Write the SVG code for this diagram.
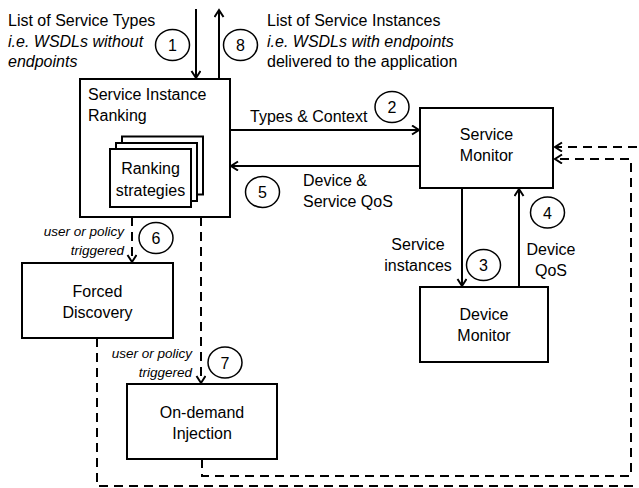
<svg xmlns="http://www.w3.org/2000/svg" width="639" height="488" viewBox="0 0 639 488">
  <style>
    .box { fill: #fff; stroke: #000; stroke-width: 2; }
    .txt { font-family: "Liberation Sans", Arial, sans-serif; font-size: 16px; fill: #000; }
    .it { font-style: italic; }
    .sm { font-size: 13.5px; }
    .mid { text-anchor: middle; }
    .end { text-anchor: end; }
    .num { fill: #fff; stroke: #000; stroke-width: 1.5; }
    .line { fill: none; stroke: #000; stroke-width: 2; }
    .dash { fill: none; stroke: #000; stroke-width: 2; stroke-dasharray: 9 6; }
  </style>
  <defs>
    <marker id="arr" markerUnits="userSpaceOnUse" markerWidth="12" markerHeight="12" refX="9" refY="5" orient="auto">
      <path d="M2,0.5 L9,5 L2,9.5" fill="none" stroke="#000" stroke-width="2"/>
    </marker>
  </defs>

  <!-- top input / output texts -->
  <g id="input-text">
    <text class="txt" x="8" y="26">List of Service Types</text>
    <text class="txt it" x="8" y="47">i.e. WSDLs without</text>
    <text class="txt it" x="8" y="67">endpoints</text>
  </g>
  <g id="output-text">
    <text class="txt" x="267" y="26">List of Service Instances</text>
    <text class="txt it" x="267" y="47">i.e. WSDLs with endpoints</text>
    <text class="txt" x="267" y="67">delivered to the application</text>
  </g>

  <!-- connectors -->
  <g id="connectors">
    <line class="line" x1="196" y1="9" x2="196" y2="78" marker-end="url(#arr)"/>
    <line class="line" x1="219" y1="79" x2="219" y2="10" marker-end="url(#arr)"/>
    <line class="line" x1="230" y1="130" x2="419" y2="130" marker-end="url(#arr)"/>
    <line class="line" x1="420" y1="166" x2="231" y2="166" marker-end="url(#arr)"/>
    <line class="line" x1="462" y1="188" x2="462" y2="286" marker-end="url(#arr)"/>
    <line class="line" x1="519" y1="287" x2="519" y2="189" marker-end="url(#arr)"/>
    <line class="dash" x1="132" y1="217" x2="132" y2="262" marker-end="url(#arr)"/>
    <line class="dash" x1="201" y1="217" x2="201" y2="383" marker-end="url(#arr)"/>
    <path class="dash" d="M97,338 V486 H641 V147 H555" marker-end="url(#arr)"/>
    <path class="dash" d="M202,459 V476 H631 V159 H555" marker-end="url(#arr)"/>
  </g>

  <!-- connector labels -->
  <g id="labels">
    <text class="txt" x="250" y="122">Types &amp; Context</text>
    <text class="txt" x="303" y="186">Device &amp;</text>
    <text class="txt" x="303" y="207">Service QoS</text>
    <text class="txt mid" x="418" y="250">Service</text>
    <text class="txt mid" x="418" y="271">instances</text>
    <text class="txt mid" x="551" y="255">Device</text>
    <text class="txt mid" x="551" y="276">QoS</text>
    <text class="txt it sm end" x="124" y="236">user or policy</text>
    <text class="txt it sm end" x="124" y="255">triggered</text>
    <text class="txt it sm end" x="192" y="358">user or policy</text>
    <text class="txt it sm end" x="192" y="377">triggered</text>
  </g>

  <!-- step numbers -->
  <g id="steps">
    <ellipse class="num" cx="172.5" cy="45" rx="17" ry="15.5"/>
    <text class="txt mid" x="172.5" y="51">1</text>
    <ellipse class="num" cx="240.5" cy="45" rx="17" ry="15.5"/>
    <text class="txt mid" x="240.5" y="51">8</text>
    <ellipse class="num" cx="392" cy="107" rx="17" ry="15.5"/>
    <text class="txt mid" x="392" y="113">2</text>
    <ellipse class="num" cx="262.5" cy="192" rx="17" ry="15.5"/>
    <text class="txt mid" x="262.5" y="198">5</text>
    <ellipse class="num" cx="483.5" cy="265" rx="17" ry="15.5"/>
    <text class="txt mid" x="483.5" y="271">3</text>
    <ellipse class="num" cx="547.5" cy="212.5" rx="17" ry="15.5"/>
    <text class="txt mid" x="547.5" y="218.5">4</text>
    <ellipse class="num" cx="156" cy="238" rx="17" ry="15.5"/>
    <text class="txt mid" x="156" y="244">6</text>
    <ellipse class="num" cx="225" cy="362.5" rx="17" ry="15.5"/>
    <text class="txt mid" x="225" y="368.5">7</text>
  </g>

  <!-- nodes -->
  <g id="service-instance-ranking">
    <rect class="box" x="80" y="79" width="150" height="138"/>
    <text class="txt" x="88" y="100">Service Instance</text>
    <text class="txt" x="88" y="121">Ranking</text>
    <g id="ranking-strategies">
      <rect class="box" x="122" y="136.5" width="81" height="58"/>
      <rect class="box" x="116" y="143" width="81" height="58"/>
      <rect class="box" x="110" y="149" width="81" height="58"/>
      <text class="txt mid" x="150.5" y="174">Ranking</text>
      <text class="txt mid" x="150.5" y="196">strategies</text>
    </g>
  </g>
  <g id="service-monitor">
    <rect class="box" x="420" y="108" width="133" height="80"/>
    <text class="txt mid" x="486.5" y="140">Service</text>
    <text class="txt mid" x="486.5" y="161">Monitor</text>
  </g>
  <g id="device-monitor">
    <rect class="box" x="420" y="287" width="128" height="75"/>
    <text class="txt mid" x="484" y="320">Device</text>
    <text class="txt mid" x="484" y="341">Monitor</text>
  </g>
  <g id="forced-discovery">
    <rect class="box" x="22" y="263" width="151" height="75"/>
    <text class="txt mid" x="97.5" y="297">Forced</text>
    <text class="txt mid" x="97.5" y="318">Discovery</text>
  </g>
  <g id="on-demand-injection">
    <rect class="box" x="127" y="384" width="150" height="75"/>
    <text class="txt mid" x="202" y="418">On-demand</text>
    <text class="txt mid" x="202" y="439">Injection</text>
  </g>
</svg>
